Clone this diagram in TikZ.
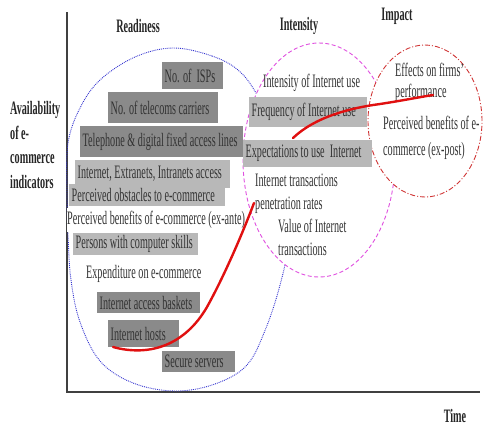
\documentclass[tikz,border=0pt]{standalone}
\usepackage{fontspec}
\setmainfont[FakeStretch=0.535]{Liberation Serif}
\definecolor{dboxc}{HTML}{8A8A8A}
\definecolor{lboxc}{HTML}{B8B8B8}
\definecolor{txt}{HTML}{333333}
\definecolor{bluec}{HTML}{3535D0}
\definecolor{pinkc}{HTML}{E050E0}
\definecolor{redc}{HTML}{D03535}
\definecolor{curvec}{HTML}{E01010}
\newcommand\boxtxt[2]{\makebox[#1][l]{#2}}
\begin{document}
\begin{tikzpicture}[x=1pt,y=-1pt,
  every node/.style={font=\fontsize{19}{22}\selectfont, text=txt},
  dbox/.style={fill=dboxc, anchor=north west, inner xsep=2.5pt, inner ysep=0pt},
  lbox/.style={dbox, fill=lboxc},
  plain/.style={anchor=west, inner sep=0pt, align=left},
  head/.style={font=\bfseries\fontsize{19}{22}\selectfont, text=black!85, inner sep=0pt},
  axis/.style={draw=black!75, line width=1.2pt},
  trend/.style={draw=curvec, line width=2.4pt, line cap=round}]
\useasboundingbox (0,0) rectangle (484,426);
% axes
\coordinate (o) at (67,392);
\coordinate (ytop) at (67,12);
\coordinate (xend) at (480,392);
\draw[axis] (ytop) -- (o) -- (xend);
% readiness zone
\draw[bluec, densely dotted, line width=0.9pt] plot[smooth cycle, tension=0.6] coordinates {
 (173,48) (212,56) (238,70) (256,93) (276,135) (289,190) (288,245) (280,285)
 (266,328) (247,365) (215,384) (175,391) (133,383) (100,361) (80,322) (71,280)
 (68,235) (67,190) (68,143) (80,108) (100,80) (135,57)};
% intensity zone
\draw[pinkc, fill=white, line width=0.9pt, dash pattern=on 4pt off 2.5pt] (319,160) ellipse [x radius=76pt, y radius=117pt];
% impact zone
\draw[redc, fill=white, line width=0.9pt, dash pattern=on 5pt off 2pt on 1pt off 2pt] (425,121) ellipse [x radius=57pt, y radius=76pt];
% headers
\node[head] (readiness) at (138,26) {Readiness};
\node[head] (intensity) at (299,26) {Intensity};
\node[head] (impact) at (397,16) {Impact};
\node[head] (time) at (455,416) {Time};
\node[head, anchor=west, align=left, font=\bfseries\fontsize{19}{24.7}\selectfont] (avail) at (10,145) {Availability\\of e-\\commerce\\indicators};
% readiness indicators
\node[dbox, minimum height=27pt] (isp) at (162,62) {\boxtxt{56pt}{No. of \ ISPs}};
\node[dbox, minimum height=31pt] (telecom) at (108,92) {\boxtxt{105pt}{No. of telecoms carriers}};
\node[dbox, minimum height=31pt] (fixed) at (80,126) {\boxtxt{158pt}{Telephone \& digital fixed access lines}};
\node[lbox, minimum height=28pt] (access) at (75,160) {\boxtxt{150pt}{Internet, Extranets, Intranets access}};
\node[lbox, minimum height=22pt] (obst) at (69,184) {\boxtxt{151pt}{Perceived obstacles to e-commerce}};
\node[plain, fill=white, inner ysep=3pt] (exante) at (67,220) {Perceived benefits of e-commerce (ex-ante)};
\node[lbox, minimum height=22pt] (skills) at (73,233) {\boxtxt{120pt}{Persons with computer skills}};
\node[plain] (expend) at (86,274) {Expenditure on e-commerce};
\node[dbox, minimum height=21pt] (baskets) at (97,292) {\boxtxt{98pt}{Internet access baskets}};
\node[dbox, minimum height=27pt] (hosts) at (108,320) {\boxtxt{66pt}{Internet hosts}};
\node[dbox, minimum height=21pt] (secure) at (162,351) {\boxtxt{68pt}{Secure servers}};
% intensity indicators
\node[plain] (useint) at (263,83) {Intensity of Internet use};
\node[lbox, minimum height=30pt] (freq) at (249,97) {\boxtxt{113pt}{Frequency of Internet use}};
\node[lbox, minimum height=27pt] (expect) at (243,140) {\boxtxt{124pt}{Expectations to use \ Internet}};
\node[plain, font=\fontsize{19}{23}\selectfont] (trans) at (255,193.5) {Internet transactions\\penetration rates};
\node[plain, font=\fontsize{19}{23}\selectfont] (value) at (278,237.5) {Value of Internet\\transactions};
% impact indicators
\node[plain, font=\fontsize{19}{21}\selectfont] (effects) at (395,82.5) {Effects on firms'\\performance};
\node[plain, font=\fontsize{19}{26}\selectfont] (expost) at (383,138) {Perceived benefits of e-\\commerce (ex-post)};
% trend curve
\draw[trend] (113,347) .. controls (150,357) and (185,345) .. (207,307)
  .. controls (222,280) and (240,240) .. (254,203);
\draw[trend] (293,138) .. controls (315,117) and (350,108) .. (380,104)
  .. controls (400,101) and (420,97) .. (433,95);
\end{tikzpicture}
\end{document}
